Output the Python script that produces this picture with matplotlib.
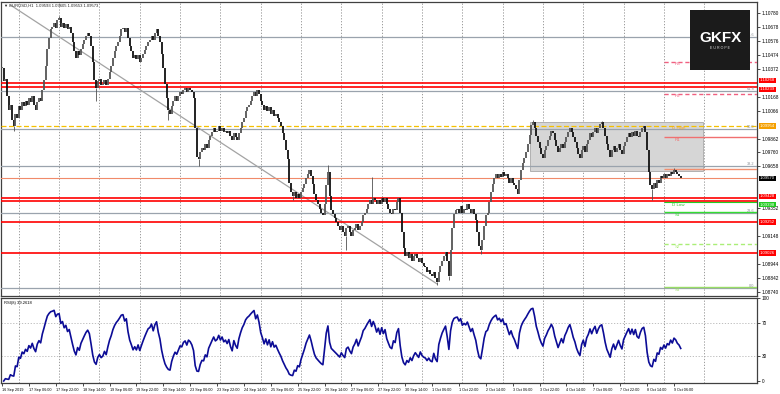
"""
EURUSD H1 chart (16 Sep - 9 Oct 2019) in the MT4 style: candles, drawn
support / resistance lines, fibonacci levels, daily pivots and an RSI(8)
sub window.
"""

import matplotlib
matplotlib.use("Agg")
import matplotlib.pyplot as plt
import matplotlib.transforms as mtransforms
from matplotlib.patches import Rectangle
import pandas as pd

plt.rcParams["font.family"] = ["Liberation Sans", "DejaVu Sans"]


# ======================
# DATA
# ======================

# hourly closes, first bar = 16 Sep 2019 14:00, one row = 16 bars
close = [
    1.1038, 1.1028, 1.1030, 1.1017, 1.1007, 1.1011, 1.1000, 1.0995, 1.1004, 1.1001, 1.1010, 1.1007, 1.1013, 1.1010, 1.1014, 1.1011,
    1.1016, 1.1013, 1.1017, 1.1011, 1.1007, 1.1013, 1.1016, 1.1014, 1.1022, 1.1029, 1.1039, 1.1052, 1.1060, 1.1066, 1.1068, 1.1071,
    1.1067, 1.1073, 1.1074, 1.1068, 1.1071, 1.1067, 1.1070, 1.1066, 1.1068, 1.1063, 1.1057, 1.1050, 1.1045, 1.1050, 1.1047, 1.1052,
    1.1055, 1.1058, 1.1061, 1.1063, 1.1061, 1.1054, 1.1042, 1.1029, 1.1023, 1.1028, 1.1030, 1.1025, 1.1026, 1.1029, 1.1025, 1.1030,
    1.1035, 1.1039, 1.1045, 1.1050, 1.1054, 1.1057, 1.1061, 1.1066, 1.1067, 1.1064, 1.1067, 1.1060, 1.1054, 1.1050, 1.1045, 1.1047,
    1.1044, 1.1047, 1.1042, 1.1045, 1.1048, 1.1051, 1.1054, 1.1057, 1.1058, 1.1061, 1.1058, 1.1063, 1.1066, 1.1061, 1.1057, 1.1048,
    1.1038, 1.1026, 1.1016, 1.1007, 1.1004, 1.1010, 1.1014, 1.1017, 1.1014, 1.1017, 1.1020, 1.1019, 1.1022, 1.1023, 1.1020, 1.1023,
    1.1022, 1.1020, 1.1016, 1.0994, 1.0973, 1.0971, 1.0976, 1.0979, 1.0978, 1.0982, 1.0979, 1.0985, 1.0988, 1.0991, 1.0994, 1.0991,
    1.0992, 1.0995, 1.0992, 1.0994, 1.0991, 1.0992, 1.0990, 1.0992, 1.0988, 1.0985, 1.0990, 1.0987, 1.0985, 1.0990, 1.0994, 1.0998,
    1.1001, 1.1006, 1.1009, 1.1011, 1.1014, 1.1017, 1.1020, 1.1017, 1.1022, 1.1019, 1.1014, 1.1011, 1.1007, 1.1010, 1.1006, 1.1009,
    1.1004, 1.1007, 1.1003, 1.1004, 1.1001, 1.0998, 1.0995, 1.0990, 1.0985, 1.0978, 1.0971, 1.0954, 1.0947, 1.0944, 1.0947, 1.0943,
    1.0946, 1.0943, 1.0947, 1.0950, 1.0953, 1.0957, 1.0960, 1.0963, 1.0959, 1.0953, 1.0946, 1.0941, 1.0938, 1.0935, 1.0932, 1.0930,
    1.0938, 1.0952, 1.0962, 1.0944, 1.0934, 1.0931, 1.0928, 1.0925, 1.0922, 1.0919, 1.0922, 1.0918, 1.0915, 1.0921, 1.0922, 1.0918,
    1.0915, 1.0919, 1.0921, 1.0924, 1.0919, 1.0922, 1.0925, 1.0930, 1.0932, 1.0935, 1.0938, 1.0941, 1.0938, 1.0943, 1.0941, 1.0938,
    1.0941, 1.0938, 1.0943, 1.0940, 1.0943, 1.0938, 1.0935, 1.0932, 1.0931, 1.0935, 1.0934, 1.0940, 1.0943, 1.0932, 1.0918, 1.0906,
    1.0900, 1.0903, 1.0899, 1.0902, 1.0897, 1.0900, 1.0902, 1.0899, 1.0896, 1.0899, 1.0895, 1.0893, 1.0892, 1.0889, 1.0890, 1.0887,
    1.0886, 1.0889, 1.0884, 1.0881, 1.0889, 1.0893, 1.0897, 1.0900, 1.0903, 1.0897, 1.0886, 1.0905, 1.0921, 1.0931, 1.0934, 1.0935,
    1.0932, 1.0937, 1.0932, 1.0935, 1.0934, 1.0938, 1.0935, 1.0932, 1.0935, 1.0931, 1.0927, 1.0918, 1.0908, 1.0905, 1.0912, 1.0922,
    1.0930, 1.0932, 1.0940, 1.0947, 1.0953, 1.0957, 1.0960, 1.0957, 1.0960, 1.0958, 1.0962, 1.0959, 1.0960, 1.0957, 1.0954, 1.0957,
    1.0954, 1.0952, 1.0949, 1.0946, 1.0956, 1.0963, 1.0968, 1.0972, 1.0976, 1.0982, 1.0989, 1.0996, 1.0998, 1.0994, 1.0988, 1.0984,
    1.0979, 1.0975, 1.0972, 1.0978, 1.0981, 1.0985, 1.0988, 1.0992, 1.0990, 1.0985, 1.0981, 1.0976, 1.0979, 1.0982, 1.0979, 1.0984,
    1.0987, 1.0991, 1.0994, 1.0991, 1.0987, 1.0984, 1.0979, 1.0975, 1.0972, 1.0978, 1.0981, 1.0976, 1.0982, 1.0985, 1.0990, 1.0987,
    1.0991, 1.0994, 1.0990, 1.0994, 1.0997, 1.0998, 1.0994, 1.0988, 1.0982, 1.0978, 1.0973, 1.0978, 1.0981, 1.0976, 1.0979, 1.0982,
    1.0978, 1.0975, 1.0981, 1.0984, 1.0987, 1.0990, 1.0987, 1.0991, 1.0988, 1.0992, 1.0988, 1.0987, 1.0991, 1.0994, 1.0995, 1.0991,
    1.0978, 1.0962, 1.0952, 1.0949, 1.0954, 1.0950, 1.0956, 1.0954, 1.0959, 1.0957, 1.0960, 1.0957, 1.0960, 1.0959, 1.0962, 1.0960,
    1.0963, 1.0962, 1.0960, 1.0959, 1.0957,
]

# long wicks that stick out of the body line (bar index -> price)
spike_high = {34: 1.1076, 194: 1.0967, 220: 1.0958, 316: 1.1000, 357: 1.0999, 400: 1.0965}
spike_low = {7: 1.0992, 56: 1.1014, 99: 1.1000, 117: 1.0966, 173: 1.0941, 205: 1.0905,
             259: 1.0879, 266: 1.0883, 285: 1.0902, 387: 1.0941}

header_text = "EURUSD,H1  1.09593 1.09605 1.09553 1.09573"

date_labels = [
    "16 Sep 2019", "17 Sep 06:00", "17 Sep 22:00", "18 Sep 14:00", "19 Sep 06:00",
    "19 Sep 22:00", "20 Sep 14:00", "23 Sep 06:00", "23 Sep 22:00", "24 Sep 14:00",
    "25 Sep 06:00", "25 Sep 22:00", "26 Sep 14:00", "27 Sep 06:00", "27 Sep 22:00",
    "30 Sep 14:00", "1 Oct 06:00", "1 Oct 22:00", "2 Oct 14:00", "3 Oct 06:00",
    "3 Oct 22:00", "4 Oct 14:00", "7 Oct 06:00", "7 Oct 22:00", "8 Oct 14:00",
    "9 Oct 06:00",
]
label_bars = list(range(0, 16 * len(date_labels), 16))
day_bars = list(range(10, 430, 24))      # midnight separators (dotted)

price_ticks = [1.08740, 1.08842, 1.08944, 1.09148, 1.09352, 1.09658,
               1.09760, 1.09862, 1.10066, 1.10168, 1.10372, 1.10474, 1.10576,
               1.10678, 1.10780]

# hand drawn horizontal lines
red_levels = [1.10268, 1.10239, 1.09428, 1.09406, 1.09252, 1.09026]
# which of them carry a price box on the scale, with a small vertical nudge (px)
red_boxes = [(1.10268, 2.5), (1.10239, -2.5), (1.09428, 1.5), (1.09252, 0), (1.09026, 0)]

fib_low, fib_high = 1.0877, 1.1110
fib_levels = [0.0, 23.6, 38.2, 50.0, 61.8, 78.6]

# daily pivots for 9 Oct (start at bar 394)
pivot_start = 394
pivot_names = ["R3", "R2", "R1", "P", "S1", "S2", "S3"]
pivot_prices = [1.10422, 1.10188, 1.09873, 1.09640, 1.09325, 1.09091, 1.08777]
day_high = 1.09954
day_low = 1.09398

# consolidation box and down trend line
box_bars = (314, 417)
box_prices = (1.09625, 1.09983)
trend_bars = [5, 259]
trend_prices = [1.10838, 1.08799]

rsi_period = 8


# ======================
# HELPERS
# ======================

def wilder_rsi(values, period):
    s = pd.Series(values)
    delta = s.diff()
    gain = delta.clip(lower=0).ewm(alpha=1.0 / period, adjust=False).mean()
    loss = (-delta.clip(upper=0)).ewm(alpha=1.0 / period, adjust=False).mean()
    return 100 - 100 / (1 + gain / loss)


def axis_box(ax, price, color, nudge_px=0.0, text_color="white"):
    trans = mtransforms.blended_transform_factory(ax.transAxes, ax.transData)
    trans = mtransforms.offset_copy(trans, fig=ax.figure, y=nudge_px, units="dots")
    ax.text(1.004, price, f"{price:.5f}", transform=trans, fontsize=3.1,
            color=text_color, va="center", ha="left", clip_on=False,
            bbox=dict(boxstyle="square,pad=0.18", fc=color, ec="none"))


# ======================
# PLOTTING
# ======================

W, H = 780, 394
fig = plt.figure(figsize=(W / 100, H / 100), dpi=100)
fig.patch.set_facecolor("white")

ax = fig.add_axes([1 / W, (H - 296) / H, 756 / W, 294 / H])
ax_rsi = fig.add_axes([1 / W, (H - 383) / H, 756 / W, 85 / H])

x_lo, x_hi = -0.6, 449.4
ax.set_xlim(x_lo, x_hi)
ax.set_ylim(1.08711, 1.10860)
ax_rsi.set_xlim(x_lo, x_hi)
ax_rsi.set_ylim(-2.4, 100)

for a in (ax, ax_rsi):
    for b in day_bars:
        a.axvline(b, color="#8c8c8c", lw=0.6, ls=(0, (1.5, 2)), zorder=1)
    for sp in a.spines.values():
        sp.set_color("#404040")
        sp.set_linewidth(0.9)
    a.yaxis.tick_right()
    a.tick_params(axis="y", labelsize=3.4, length=2, width=0.5, pad=1.5)

# consolidation box
ax.add_patch(Rectangle((box_bars[0], box_prices[0]), box_bars[1] - box_bars[0],
                       box_prices[1] - box_prices[0], fc="#d6d6d6", ec="#a8a8a8",
                       lw=0.6, zorder=2))

# fibonacci levels
for lvl in fib_levels:
    p = fib_low + (fib_high - fib_low) * lvl / 100
    ax.axhline(p, color="#9aa3ad", lw=0.9, zorder=3)
    ax.text(448, p, f"{lvl:.1f}", fontsize=2.8, color="#8a8f96",
            ha="right", va="bottom", zorder=6)

# day high (dashed yellow) and drawn red levels
ax.axhline(day_high, color="#f5c000", lw=0.9, ls=(0, (4, 2)), zorder=3)
for p in red_levels:
    ax.axhline(p, color="#ff0000", lw=1.2, zorder=4)

# pivots
pivot_styles = {
    "R3": ("#f06080", (0, (3, 2))), "R2": ("#f06080", (0, (3, 2))),
    "R1": ("#f07070", "-"), "P": ("#f29070", "-"),
    "S1": ("#33dd33", "-"), "S2": ("#aaee77", (0, (3, 2))), "S3": ("#99dd66", "-"),
}
for name, p in zip(pivot_names, pivot_prices):
    color, ls = pivot_styles[name]
    ax.hlines(p, pivot_start, x_hi, color=color, lw=1.0, ls=ls, zorder=4)
    if name != "P":
        ax.text(402, p - 0.00004, name, fontsize=3.2, color=color,
                ha="center", va="top", zorder=6)
ax.hlines(day_low, pivot_start, x_hi, color="#22cc22", lw=0.8, zorder=4)
ax.text(399, day_high - 0.00004, "D High", fontsize=3.2, color="#f0a020",
        ha="left", va="top", zorder=6)
ax.text(399, day_low - 0.00004, "D Low", fontsize=3.2, color="#33bb33",
        ha="left", va="top", zorder=6)

# trend line
ax.plot(trend_bars, trend_prices, color="#a3a3a3", lw=0.9, zorder=3)

# bid line
ax.axhline(close[-1], color="#f08a6a", lw=0.8, zorder=3)

# candles: open = previous close
bars = list(range(len(close)))
opens = [close[0]] + close[:-1]
lo = [min(o, c) for o, c in zip(opens, close)]
hi = [max(o, c) for o, c in zip(opens, close)]
hi = [h if h - l > 0.00003 else l + 0.00003 for h, l in zip(hi, lo)]
cols = ["#555555" if c >= o else "#111111" for o, c in zip(opens, close)]
ax.vlines(bars, lo, hi, colors=cols, lw=1.3, zorder=5)
for b, p in spike_high.items():
    ax.vlines(b, hi[b], p, color="#505050", lw=0.6, zorder=5)
for b, p in spike_low.items():
    ax.vlines(b, p, lo[b], color="#505050", lw=0.6, zorder=5)

ax.set_xticks([])
ax.set_yticks(price_ticks)
ax.set_yticklabels([f"{p:.5f}" for p in price_ticks])

# coloured price boxes on the scale
for p, nudge in red_boxes:
    axis_box(ax, p, "#ff0000", nudge)
axis_box(ax, day_low, "#22cc22", -2.5)
axis_box(ax, day_high, "#f5a000")
axis_box(ax, close[-1], "#000000")

ax.text(0.004, 0.995, "\u25bc " + header_text, transform=ax.transAxes,
        fontsize=3.0, va="top", ha="left", color="#202020")

# RSI window
rsi = wilder_rsi(close, rsi_period)
for lvl in (30, 70):
    ax_rsi.axhline(lvl, color="#b4b4b4", lw=0.6, ls=(0, (1.5, 2)), zorder=1)
ax_rsi.plot(bars, rsi, color="#0c0c96", lw=1.2, zorder=3)
ax_rsi.set_yticks([0, 30, 70, 100])
ax_rsi.text(0.004, 0.97, f"RSI({rsi_period}) {rsi.iloc[-1]:.4f}",
            transform=ax_rsi.transAxes, fontsize=3.0, va="top", ha="left")
ax_rsi.set_xticks(label_bars)
ax_rsi.set_xticklabels(date_labels, fontsize=2.7, ha="left")
ax_rsi.tick_params(axis="x", length=2, width=0.5, pad=1.5)

# GKFX logo
logo = fig.add_axes([690 / W, (H - 70) / H, 60 / W, 60 / H])
logo.set_facecolor("#1b1b1b")
logo.set_xticks([])
logo.set_yticks([])
for sp in logo.spines.values():
    sp.set_visible(False)
logo.text(0.5, 0.53, "GKFX", color="white", fontsize=11, fontweight="bold",
          ha="center", va="center")
logo.text(0.5, 0.36, "E U R O P E", color="#dddddd", fontsize=2.6,
          ha="center", va="center")

fig.savefig("out.png", dpi=100)
